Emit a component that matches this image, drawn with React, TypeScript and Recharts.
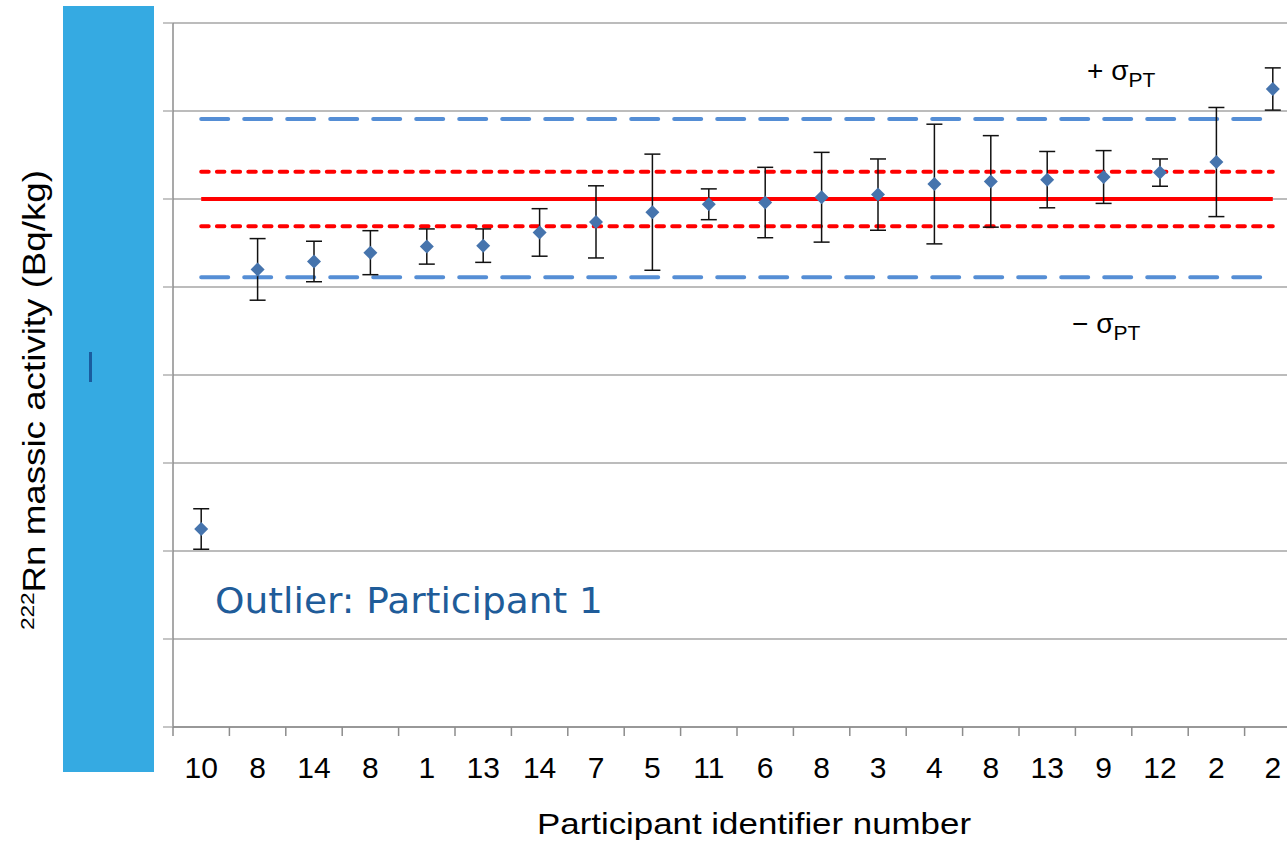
import React from 'react';
import { ComposedChart, Line, ErrorBar, XAxis, YAxis, CartesianGrid, ReferenceLine } from 'recharts';

// participant ids along the x axis (ranked by result)
const participants = [10, 8, 14, 8, 1, 13, 14, 7, 5, 11, 6, 8, 3, 4, 8, 13, 9, 12, 2, 2];
// reported massic activity (axis units) and expanded uncertainty
const activity = [2.25, 5.2, 5.29, 5.39, 5.46, 5.47, 5.62, 5.74, 5.85, 5.94, 5.96, 6.02, 6.05, 6.17, 6.2, 6.22, 6.25, 6.3, 6.42, 7.25];
const uncertainty = [0.23, 0.35, 0.23, 0.25, 0.2, 0.19, 0.27, 0.41, 0.66, 0.175, 0.4, 0.51, 0.405, 0.68, 0.52, 0.32, 0.3, 0.155, 0.62, 0.24];

const yTicks = [0, 1, 2, 3, 4, 5, 6, 7, 8];

const REF_VALUE = 6.0;
const REF_UNC_HIGH = 6.31;
const REF_UNC_LOW = 5.69;
const SIGMA_HIGH = 6.91;
const SIGMA_LOW = 5.11;

const data = participants.map((p, i) => ({
  idx: i,
  id: p,
  value: activity[i],
  err: uncertainty[i],
}));

const FIRST = 0;
const LAST = participants.length - 1;

const Diamond = (props: any) => {
  const { cx, cy } = props;
  if (cx == null || cy == null) return null;
  const r = 7;
  return (
    <path
      d={`M${cx},${cy - r} L${cx + r},${cy} L${cx},${cy + r} L${cx - r},${cy} Z`}
      fill="#4674ad"
    />
  );
};

// label in the middle of the band, tick mark on the band's left edge
const CategoryTick = (props: any) => {
  const { x, y, payload } = props;
  const half = payload.offset || 0;
  return (
    <g>
      <line x1={x - half} x2={x - half} y1={y} y2={y + 9} stroke="#8c8c8c" strokeWidth={1.5} />
      <text
        x={x}
        y={y}
        dy={51}
        textAnchor="middle"
        fontSize={30}
        fontFamily="'Liberation Sans', Arial, sans-serif"
        fill="#000"
      >
        {participants[payload.value]}
      </text>
    </g>
  );
};

// y values are hidden behind the panel in the original, keep only the tick marks
const NoLabel = () => <g />;

const seg = (v: number) => [
  { x: FIRST, y: v },
  { x: LAST, y: v },
];

const App: React.FC = () => {
  return (
    <div style={{ position: 'fixed', left: 0, top: 0, width: 1287, height: 843, overflow: 'hidden', background: '#fff' }}>
      <ComposedChart
        width={1310}
        height={843}
        data={data}
        margin={{ top: 23, right: 9, left: 163, bottom: 46 }}
      >
        <CartesianGrid horizontal vertical={false} stroke="#a6a6a6" strokeWidth={1.3} />
        <XAxis
          dataKey="idx"
          type="category"
          scale="band"
          height={70}
          axisLine={{ stroke: '#8c8c8c', strokeWidth: 1.5 }}
          tickLine={false}
          tickSize={0}
          tickMargin={0}
          interval={0}
          tick={<CategoryTick />}
        />
        <YAxis
          type="number"
          domain={[0, 8]}
          ticks={yTicks}
          interval={0}
          width={10}
          tick={<NoLabel />}
          tickSize={10}
          axisLine={{ stroke: '#8c8c8c', strokeWidth: 1.5 }}
          tickLine={{ stroke: '#a6a6a6', strokeWidth: 1.3 }}
        />
        <ReferenceLine segment={seg(SIGMA_HIGH)} stroke="#558ed5" strokeWidth={4} strokeDasharray="27 16" strokeLinecap="round" />
        <ReferenceLine segment={seg(SIGMA_LOW)} stroke="#558ed5" strokeWidth={4} strokeDasharray="27 16" strokeLinecap="round" />
        <ReferenceLine segment={seg(REF_UNC_HIGH)} stroke="#ff0000" strokeWidth={4} strokeDasharray="7.5 8.2" strokeLinecap="round" />
        <ReferenceLine segment={seg(REF_UNC_LOW)} stroke="#ff0000" strokeWidth={4} strokeDasharray="7.5 8.2" strokeLinecap="round" />
        <ReferenceLine segment={seg(REF_VALUE)} stroke="#ff0000" strokeWidth={4} />
        <Line
          dataKey="value"
          stroke="none"
          dot={<Diamond />}
          activeDot={false}
          isAnimationActive={false}
        >
          <ErrorBar dataKey="err" width={8} stroke="#111" strokeWidth={1.5} isAnimationActive={false} />
        </Line>
      </ComposedChart>

      <svg
        width={1287}
        height={843}
        style={{ position: 'absolute', left: 0, top: 0, pointerEvents: 'none' }}
      >
        <rect x={63} y={6} width={91} height={766} fill="#35aae2" />
        <rect x={89} y={352} width={3} height={30} fill="#1a5c9e" />
        <text
          transform="translate(45,400) rotate(-90)"
          textAnchor="middle"
          fontSize={31}
          fontFamily="'Liberation Sans', Arial, sans-serif"
          fill="#000"
          textLength={460}
          lengthAdjust="spacingAndGlyphs"
        >
          <tspan fontSize={19} dy={-11}>222</tspan>
          <tspan dy={11}>Rn massic activity (Bq/kg)</tspan>
        </text>
        <text
          x={754}
          y={834}
          textAnchor="middle"
          fontSize={30}
          fontFamily="'Liberation Sans', Arial, sans-serif"
          fill="#000"
          textLength={434}
          lengthAdjust="spacingAndGlyphs"
        >
          Participant identifier number
        </text>
        <text
          x={215}
          y={613}
          fontSize={36}
          fontFamily="'DejaVu Sans', Verdana, sans-serif"
          fill="#1f5c99"
          textLength={388}
          lengthAdjust="spacingAndGlyphs"
        >
          Outlier: Participant 1
        </text>
        <text x={1087} y={80} fontSize={28} fontFamily="'Liberation Sans', Arial, sans-serif" fill="#000">
          + σ<tspan fontSize={21} dy={7}>PT</tspan>
        </text>
        <text x={1072} y={333} fontSize={28} fontFamily="'Liberation Sans', Arial, sans-serif" fill="#000">
          − σ<tspan fontSize={21} dy={7}>PT</tspan>
        </text>
      </svg>
    </div>
  );
};

export default App;
